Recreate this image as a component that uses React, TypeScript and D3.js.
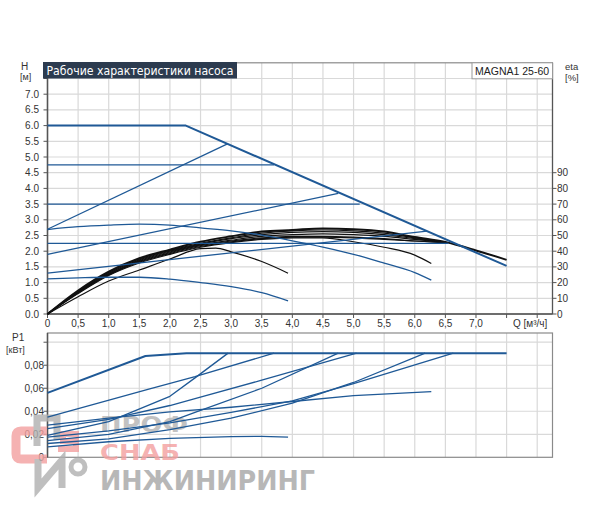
import React from 'react';
import * as d3 from 'd3';

// axis ticks
const qTicks = [0, 0.5, 1, 1.5, 2, 2.5, 3, 3.5, 4, 4.5, 5, 5.5, 6, 6.5, 7];
const qTickLabels = ['0', '0,5', '1,0', '1,5', '2,0', '2,5', '3,0', '3,5', '4,0', '4,5', '5,0', '5,5', '6,0', '6,5', '7,0'];
const hTicks = [0, 0.5, 1, 1.5, 2, 2.5, 3, 3.5, 4, 4.5, 5, 5.5, 6, 6.5, 7];
const hTickLabels = ['0.0', '0.5', '1.0', '1.5', '2.0', '2.5', '3.0', '3.5', '4.0', '4.5', '5.0', '5.5', '6.0', '6.5', '7.0'];
const etaTicks = [0, 10, 20, 30, 40, 50, 60, 70, 80, 90];
const pTicks = [0, 0.02, 0.04, 0.06, 0.08];
const pTickLabels = ['0', '0,02', '0,04', '0,06', '0,08'];

// H-Q curves [m]
const maxQ = [0, 2.26, 7.5];
const maxH = [6.0, 6.0, 1.53];
const const475Q = [0, 3.7];
const const475H = [4.75, 4.75];
const const35Q = [0, 5.1];
const const35H = [3.5, 3.5];
const const225Q = [0, 6.55];
const const225H = [2.25, 2.25];
const prop27Q = [0, 2.94];
const prop27H = [2.7, 5.42];
const prop19Q = [0, 4.75];
const prop19H = [1.9, 3.84];
const prop13Q = [0, 6.2];
const prop13H = [1.3, 2.64];
const hump27Q = [0, 0.5, 1, 1.5, 2, 2.5, 3, 3.5, 4, 4.5, 5, 5.5, 6, 6.27];
const hump27H = [2.69, 2.78, 2.83, 2.86, 2.83, 2.74, 2.65, 2.51, 2.33, 2.13, 1.9, 1.62, 1.32, 1.08];
const hump113Q = [0, 0.5, 1, 1.5, 2, 2.5, 3, 3.5, 3.93];
const hump113H = [1.12, 1.15, 1.17, 1.17, 1.11, 1.0, 0.87, 0.68, 0.42];

// efficiency curves [%]
const etaTQ = [0, 0.5, 1, 1.5, 2, 2.5, 3, 3.5, 4, 4.5, 5, 5.5, 6, 6.5, 7, 7.5];
const etaT = [0, 15, 27, 35.5, 41, 46, 49.5, 52.5, 53.5, 54.5, 54, 52.5, 49, 45.8, 40.5, 34.5];
const etaBQ = [0, 0.5, 1, 1.5, 2, 2.5, 3, 3.5, 4, 4.5, 5, 5.5, 6, 6.5];
const etaB1 = [0, 14.5, 26.5, 35, 40.5, 45, 48.5, 51.5, 53, 53.5, 53, 51.5, 48.5, 45.5];
const etaB2 = [0, 14, 26, 34.5, 40, 44.5, 48, 50.5, 52, 52.5, 52, 50.5, 48, 45.5];
const etaB3 = [0, 14, 25.5, 34, 39.5, 44, 47, 49.5, 50.5, 51, 50.5, 49.5, 47.5, 45.5];
const etaB4 = [0, 13.5, 25, 33.5, 39, 43.5, 46.5, 48.5, 49.5, 49.5, 49, 48, 46.5, 45.5];
const etaB5 = [0, 13.5, 25, 33, 38.5, 43, 46, 48, 49, 49, 48.5, 47.5, 46.5, 45.5];
const etaFQ = [0, 0.5, 1, 1.5, 2, 2.5, 3, 3.5, 4, 4.5, 5, 5.5, 6, 6.27];
const etaF = [0, 13, 24.5, 32.5, 38, 42.5, 45.5, 47.5, 48.5, 48.5, 46, 42.5, 37.5, 32.2];
const etaGQ = [0, 0.5, 1, 1.5, 2, 2.5, 2.75, 3, 3.5, 3.93];
const etaG = [0, 11, 21, 28, 35, 41.6, 42, 39.6, 33.4, 26];

// power curves P1 [kW]
const pMaxQ = [0, 1.6, 2.27, 7.5];
const pMax = [0.056, 0.088, 0.0905, 0.0905];
const pConst475Q = [0, 1.64, 2.41, 3.7];
const pConst475 = [0.035, 0.059, 0.07, 0.0905];
const pProp27Q = [0, 1, 2, 2.41, 2.95];
const pProp27 = [0.019, 0.031, 0.053, 0.069, 0.0905];
const pConst35Q = [0, 1, 2, 2.41, 3.5, 5.05];
const pConst35 = [0.025, 0.033, 0.045, 0.051, 0.067, 0.0905];
const pHump27Q = [0, 1, 2, 3, 4, 5, 6.27];
const pHump27 = [0.028, 0.034, 0.0395, 0.0435, 0.0485, 0.0535, 0.057];
const pConst225Q = [0, 1, 2, 3, 4, 5, 6.63];
const pConst225 = [0.0175, 0.023, 0.03, 0.039, 0.049, 0.064, 0.0905];
const pProp19Q = [0, 1, 2, 2.41, 3.5, 4.75];
const pProp19 = [0.0145, 0.02, 0.031, 0.039, 0.06, 0.0905];
const pProp13Q = [0, 1, 2, 3, 4, 5, 6.17];
const pProp13 = [0.012, 0.016, 0.024, 0.034, 0.047, 0.065, 0.0905];
const pHump113Q = [0, 1, 2, 3, 3.5, 3.93];
const pHump113 = [0.009, 0.0135, 0.0165, 0.018, 0.0182, 0.0175];

const BLUE = '#1f5996';
const GRID = '#d9d9d9';
const FRAME = '#8a8a8a';
const AXIS = '#555';
const FONT = '"Liberation Sans", Arial, sans-serif';
const WM_FONT = '"DejaVu Sans", sans-serif';

export default function App() {
  const x = d3.scaleLinear().domain([0, 8.25]).range([47.5, 552.5]);
  const yH = d3.scaleLinear().domain([0, 8]).range([314, 62.8]);
  const yEta = d3.scaleLinear().domain([0, 160]).range([314, 62.8]);
  const yP = d3.scaleLinear().domain([0, 0.108]).range([457.3, 333]);

  const path = (qs: number[], vs: number[], y: d3.ScaleLinear<number, number>, curve: d3.CurveFactory = d3.curveLinear) =>
    d3.line<number>().x((_, i) => x(qs[i])).y(d => y(d)).curve(curve)(vs) || '';

  const [L, R] = x.range();
  const topY = yH.range();
  const botY = yP.range();

  const vGrid = d3.range(0.5, 8.01, 0.5);
  const hGrid = d3.range(0.5, 7.51, 0.5);
  const pGrid = [0.02, 0.04, 0.06, 0.08, 0.1];

  const blueH = [
    { q: const475Q, v: const475H }, { q: const35Q, v: const35H }, { q: const225Q, v: const225H },
    { q: prop27Q, v: prop27H }, { q: prop19Q, v: prop19H }, { q: prop13Q, v: prop13H },
  ];
  const humps = [{ q: hump27Q, v: hump27H }, { q: hump113Q, v: hump113H }];
  const etaCurves = [
    { q: etaBQ, v: etaB5 }, { q: etaBQ, v: etaB4 }, { q: etaBQ, v: etaB3 }, { q: etaBQ, v: etaB2 },
    { q: etaBQ, v: etaB1 }, { q: etaFQ, v: etaF }, { q: etaGQ, v: etaG },
  ];
  const pCurves = [
    { q: pConst475Q, v: pConst475 }, { q: pProp27Q, v: pProp27 }, { q: pConst35Q, v: pConst35 },
    { q: pHump27Q, v: pHump27 }, { q: pConst225Q, v: pConst225 }, { q: pProp19Q, v: pProp19 },
    { q: pProp13Q, v: pProp13 }, { q: pHump113Q, v: pHump113 },
  ];

  return (
    <svg width={600} height={509} style={{ position: 'absolute', left: 0, top: 0, background: '#fff' }} fontFamily={FONT}>
      {/* ---- top chart grid ---- */}
      <g stroke={GRID} strokeWidth={1.2}>
        {vGrid.map(q => <line key={'v' + q} x1={x(q)} x2={x(q)} y1={topY[1]} y2={topY[0]} />)}
        {hGrid.map(h => <line key={'h' + h} x1={L} x2={R} y1={yH(h)} y2={yH(h)} />)}
      </g>
      <rect x={L} y={topY[1]} width={R - L} height={topY[0] - topY[1]} fill="none" stroke={FRAME} strokeWidth={1.2} />
      <line x1={L} x2={L} y1={topY[1]} y2={topY[0]} stroke={AXIS} strokeWidth={1.5} />
      <line x1={L} x2={R} y1={topY[0]} y2={topY[0]} stroke={AXIS} strokeWidth={1.5} />
      <line x1={R} x2={R} y1={topY[1]} y2={topY[0]} stroke={AXIS} strokeWidth={1.2} />

      {/* left ticks */}
      {hTicks.concat([7.5]).map(h => <line key={'lt' + h} x1={L - 4} x2={L} y1={yH(h)} y2={yH(h)} stroke={AXIS} />)}
      {hTicks.map((h, i) => (
        <text key={'hl' + h} x={39} y={yH(h)} dy="0.35em" textAnchor="end" fontSize={10} fill="#333">{hTickLabels[i]}</text>
      ))}
      {/* right eta ticks */}
      {etaTicks.map(e => <line key={'rt' + e} x1={R} x2={R + 4} y1={yEta(e)} y2={yEta(e)} stroke={AXIS} />)}
      {etaTicks.map(e => (
        <text key={'el' + e} x={557} y={yEta(e)} dy="0.35em" fontSize={10} fill="#333">{e}</text>
      ))}
      {/* x ticks */}
      {vGrid.concat([0]).map(q => <line key={'xt' + q} x1={x(q)} x2={x(q)} y1={topY[0]} y2={topY[0] + 4} stroke={AXIS} />)}
      {qTicks.map((q, i) => (
        <text key={'ql' + q} x={x(q)} y={327} textAnchor="middle" fontSize={10} fill="#333">{qTickLabels[i]}</text>
      ))}
      <text x={513} y={327} fontSize={10} fill="#333">Q [м³/ч]</text>

      <text x={21} y={70} fontSize={10} fill="#333">H</text>
      <text x={20} y={80} fontSize={9} fill="#333">[м]</text>
      <text x={565} y={70} fontSize={9.5} fill="#333">eta</text>
      <text x={565} y={81} fontSize={9.5} fill="#333">[%]</text>

      {/* ---- top chart curves ---- */}
      <g fill="none" strokeLinejoin="round">
        {etaCurves.map((c, i) => <path key={'eta' + i} d={path(c.q, c.v, yEta, d3.curveMonotoneX)} stroke="#111" strokeWidth={1.2} />)}
        <path d={path(etaTQ, etaT, yEta, d3.curveMonotoneX)} stroke="#111" strokeWidth={2} />
        {humps.map((c, i) => <path key={'hu' + i} d={path(c.q, c.v, yH, d3.curveMonotoneX)} stroke={BLUE} strokeWidth={1.3} />)}
        {blueH.map((c, i) => <path key={'bh' + i} d={path(c.q, c.v, yH)} stroke={BLUE} strokeWidth={1.3} />)}
        <path d={path(maxQ, maxH, yH)} stroke={BLUE} strokeWidth={2} />
      </g>

      {/* title boxes */}
      <rect x={43} y={62} width={194} height={16.5} fill="#2c3b4f" />
      <text x={46.5} y={74.5} fontSize={11.5} fill="#fff" fontFamily={WM_FONT} textLength={187} lengthAdjust="spacingAndGlyphs">Рабочие характеристики насоса</text>
      <rect x={472} y={62.8} width={80.5} height={16} fill="#fff" stroke="#999" />
      <text x={475} y={75} fontSize={10.5} fill="#222">MAGNA1 25-60</text>

      {/* ---- bottom chart ---- */}
      <g stroke={GRID} strokeWidth={1.2}>
        {vGrid.map(q => <line key={'bv' + q} x1={x(q)} x2={x(q)} y1={botY[1]} y2={botY[0]} />)}
        {pGrid.map(p => <line key={'bh' + p} x1={L} x2={R} y1={yP(p)} y2={yP(p)} />)}
      </g>
      <rect x={L} y={botY[1]} width={R - L} height={botY[0] - botY[1]} fill="none" stroke={FRAME} strokeWidth={1.2} />
      <line x1={L} x2={L} y1={botY[1]} y2={botY[0]} stroke={AXIS} strokeWidth={1.5} />
      {pTicks.concat([0.1]).map(p => <line key={'pt' + p} x1={L - 4} x2={L} y1={yP(p)} y2={yP(p)} stroke={AXIS} />)}
      {pTicks.map((p, i) => (
        <text key={'pl' + p} x={44} y={yP(p)} dy="0.35em" textAnchor="end" fontSize={10} fill="#333">{pTickLabels[i]}</text>
      ))}
      <text x={12} y={341} fontSize={10} fill="#333">P1</text>
      <text x={6} y={353} fontSize={9} fill="#333">[кВт]</text>

      {/* watermark */}
      <g opacity={0.8}>
        <path d="M47,431 H21 Q16,431 16,436 V454 Q16,459 21,459 H47" fill="none" stroke="#f3a0a0" strokeWidth={9} />
        <path d="M37,446 V418 H57 V440" fill="none" stroke="#b0b0b0" strokeWidth={7} />
        <path d="M79,434 H63 V441 H76 V449 H58" fill="none" stroke="#f3a0a0" strokeWidth={6} />
        <path d="M38,459 V488 L62,460 V488" fill="none" stroke="#b0b0b0" strokeWidth={7} />
        <circle cx={78} cy={467} r={7} fill="none" stroke="#b0b0b0" strokeWidth={5} />
        <text x={100} y={432} fontSize={22} fontWeight="bold" fill="#b3b3b3" fontFamily={WM_FONT} textLength={88} lengthAdjust="spacingAndGlyphs">ПРОФ</text>
        <text x={100} y={460} fontSize={22} fontWeight="bold" fill="#f3a0a0" fontFamily={WM_FONT} textLength={80} lengthAdjust="spacingAndGlyphs">СНАБ</text>
        <text x={100} y={490} fontSize={26} fontWeight="bold" fill="#a6a6a6" fontFamily={WM_FONT} textLength={215} lengthAdjust="spacingAndGlyphs">ИНЖИНИРИНГ</text>
      </g>

      <g fill="none" strokeLinejoin="round">
        {pCurves.map((c, i) => <path key={'pc' + i} d={path(c.q, c.v, yP)} stroke={BLUE} strokeWidth={1.3} />)}
        <path d={path(pMaxQ, pMax, yP)} stroke={BLUE} strokeWidth={2} />
      </g>
    </svg>
  );
}
